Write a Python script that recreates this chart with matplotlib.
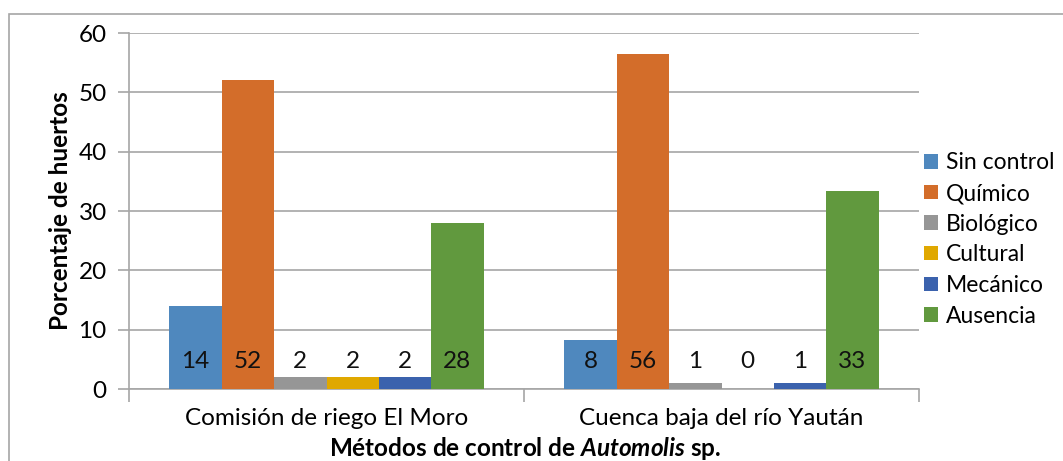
import matplotlib.pyplot as plt
import matplotlib.patches as mpatches
import numpy as np

# data
groups = ["Comisión de riego El Moro", "Cuenca baja del río Yaután"]
methods = ["Sin control", "Químico", "Biológico", "Cultural", "Mecánico", "Ausencia"]
el_moro = [14, 52, 2, 2, 2, 28]
yautan = [8.3, 56.5, 1, 0, 1, 33.3]
el_moro_labels = ["14", "52", "2", "2", "2", "28"]
yautan_labels = ["8", "56", "1", "0", "1", "33"]
colors = ["#4F88BE", "#D36D2A", "#969696", "#E0A800", "#3B62AD", "#61993E"]

plt.rcParams['font.family'] = ['Lato', 'DejaVu Sans']
plt.rcParams['mathtext.fontset'] = 'custom'
plt.rcParams['mathtext.bfit'] = 'Lato:italic:bold'
plt.rcParams['mathtext.it'] = 'Lato:italic:bold'

fig = plt.figure(figsize=(10.63, 4.61), dpi=100)
ax = fig.add_axes([129/1063, 1-389/461, (919-129)/1063, (389-33)/461])

# outer frame of the chart
fig.patches.append(mpatches.Rectangle((9/1063, -0.1), 1.2, 1-14/461+0.1,
                                      transform=fig.transFigure, fill=False,
                                      edgecolor='#A6A6A6', lw=1.2))

x = np.arange(len(groups))
width = 0.795 / len(methods)
vals = np.array([el_moro, yautan])
labs = [el_moro_labels, yautan_labels]

for i, m in enumerate(methods):
    pos = x - 0.795/2 + width*(i + 0.5)
    ax.bar(pos, vals[:, i], width, color=colors[i], label=m, zorder=3)
    for j in range(len(groups)):
        ax.text(pos[j], 4.6, labs[j][i], ha='center', va='center',
                fontsize=17.5, color='#111111', zorder=4)

ax.set_xlim(-0.5, 1.5)
ax.set_ylim(0, 60)
ax.set_yticks(range(0, 61, 10))
ax.set_xticks([-0.5, 0.5, 1.5], minor=True)
ax.set_xticks(x)
ax.set_xticklabels(groups, fontsize=17.5)
ax.tick_params(axis='x', which='major', length=0, pad=14)
ax.tick_params(axis='x', which='minor', length=9, color='#A6A6A6', width=1.2)
ax.tick_params(axis='y', labelsize=17.5, length=8, color='#A6A6A6', width=1.2, pad=8)
ax.grid(axis='y', color='#A6A6A6', lw=1.2, zorder=0)

for s in ['top', 'right']:
    ax.spines[s].set_visible(False)
for s in ['left', 'bottom']:
    ax.spines[s].set_color('#A6A6A6')
    ax.spines[s].set_linewidth(1.2)

ax.set_ylabel("Porcentaje de huertos", fontsize=17.5, fontweight='bold', labelpad=5)
fig.text(525/1063, 1-448/461, r"Métodos de control de $\mathit{Automolis}$ sp.",
         ha='center', va='center', fontsize=17.5, fontweight='bold')

ax.legend(loc='center left', bbox_to_anchor=(0.995, 0.42), frameon=False,
          fontsize=16.5, handlelength=0.6, handleheight=0.6, handletextpad=0.35,
          labelspacing=0.42, borderaxespad=0)

fig.savefig("out.png", dpi=100)
